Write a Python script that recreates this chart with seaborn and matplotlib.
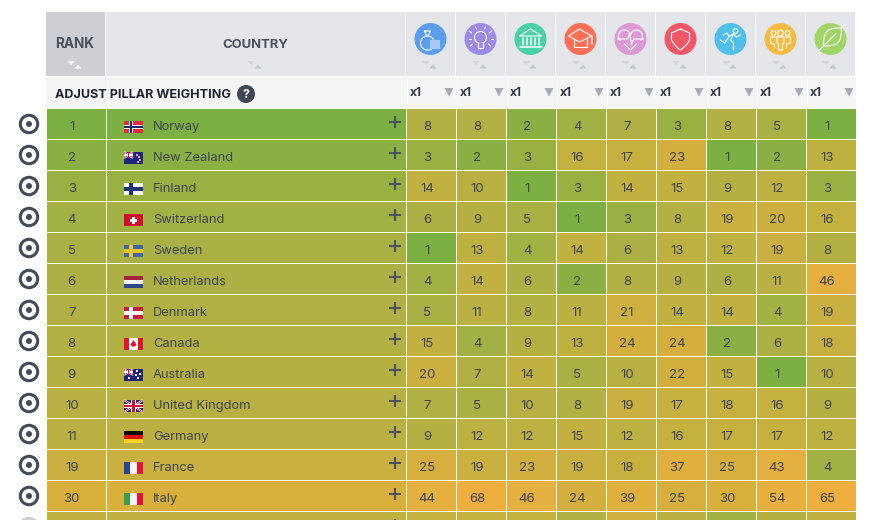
import numpy as np
import pandas as pd
import matplotlib
matplotlib.use("Agg")
import matplotlib.pyplot as plt
import seaborn as sns
from matplotlib.colors import LinearSegmentedColormap
from matplotlib.patches import Circle, Polygon, Rectangle, Arc

# values (last row is cut off, guessed from its colours)
countries = ["Norway", "New Zealand", "Finland", "Switzerland", "Sweden", "Netherlands", "Denmark",
             "Canada", "Australia", "United Kingdom", "Germany", "France", "Italy", ""]
ranks = [1, 2, 3, 4, 5, 6, 7, 8, 9, 10, 11, 19, 30, 14]
economy = [8, 3, 14, 6, 1, 4, 5, 15, 20, 7, 9, 25, 44, 16]
business = [8, 2, 10, 9, 13, 14, 11, 4, 7, 5, 12, 19, 68, 16]
governance = [2, 3, 1, 5, 4, 6, 8, 9, 14, 10, 12, 23, 46, 16]
education = [4, 16, 3, 1, 14, 2, 11, 13, 5, 8, 15, 19, 24, 8]
health = [7, 17, 14, 3, 6, 8, 21, 24, 10, 19, 12, 18, 39, 21]
safety = [3, 23, 15, 8, 13, 9, 14, 24, 22, 17, 16, 37, 25, 11]
freedom = [8, 1, 9, 19, 12, 6, 14, 2, 15, 18, 17, 25, 30, 4]
social = [5, 2, 12, 20, 19, 11, 4, 6, 1, 16, 17, 43, 54, 9]
environment = [1, 13, 3, 16, 8, 46, 19, 18, 10, 9, 12, 4, 65, 14]
weights = ["x1"] * 9

icon_colors = ["#5B9DEE", "#9D8AE8", "#4BD0A8", "#FF6F55", "#DC99D6", "#F05768", "#4FC0EA", "#F8BB42", "#A2D568"]

W, H = 869, 520
TXT = "#3F4450"

sns.set_theme(style="white")
plt.rcParams["font.family"] = ["Inter", "DejaVu Sans"]

fig = plt.figure(figsize=(W / 100, H / 100), dpi=100, facecolor="white")


def px_axes(x0, y0, x1, y1):
    return fig.add_axes([x0 / W, 1 - y1 / H, (x1 - x0) / W, (y1 - y0) / H])


# colour scale green -> amber, rank 1..68
nodes = [(1, "#7CB042"), (2, "#8EB043"), (3, "#9BB042"), (4, "#A3B144"), (5, "#A9B044"), (8, "#B4B044"),
         (13, "#BFB140"), (19, "#C9B040"), (25, "#D6AF3E"), (30, "#DAB03D"), (46, "#E5B03F"), (68, "#F0AE3E")]
cmap = LinearSegmentedColormap.from_list("prosperity", [((v - 1) / 67, c) for v, c in nodes])

table = pd.DataFrame({"economy": economy, "business": business, "governance": governance,
                      "education": education, "health": health, "safety": safety,
                      "freedom": freedom, "social": social, "environment": environment}, index=countries)
n_rows = len(table)
top = 108
bottom = top + 31 * n_rows
kw = dict(cmap=cmap, vmin=1, vmax=68, cbar=False, linewidths=0.5, linecolor="white",
          xticklabels=False, yticklabels=False)
annot_kw = {"fontsize": 9.5, "color": TXT}


def heat(ax, data, annot, dx=0.0):
    sns.heatmap(data, ax=ax, annot=annot, fmt="d", annot_kws=annot_kw, **kw)
    ax.set_xlabel("")
    ax.set_ylabel("")
    for t in list(ax.texts):
        x, y = t.get_position()
        # the last row falls off the picture, its numbers are not visible
        if y > n_rows - 1:
            t.remove()
        else:
            t.set_position((x + dx, y + 0.1))


rank_ax = px_axes(46, top, 106, bottom)
heat(rank_ax, pd.DataFrame({"rank": ranks}), True, dx=-0.07)
country_ax = px_axes(106, top, 406, bottom)
heat(country_ax, pd.DataFrame({"rank": ranks}), False)
pillar_ax = px_axes(406, top, 856, bottom)
heat(pillar_ax, table, True, dx=-0.08)

# everything else in pixel coordinates on a see-through layer
ov = fig.add_axes([0, 0, 1, 1], zorder=5)
ov.set_xlim(0, W)
ov.set_ylim(H, 0)
ov.axis("off")
ov.patch.set_alpha(0)


def rect(x, y, w, h, c, z=1):
    ov.add_patch(Rectangle((x, y), w, h, fc=c, ec="none", zorder=z))


def tri(x, y, c, up=False, w=4.5, h=4.5):
    pts = [(x - w, y), (x + w, y), (x, y + h)] if not up else [(x - w, y + h), (x + w, y + h), (x, y)]
    ov.add_patch(Polygon(pts, fc=c, ec="none", zorder=3))


def sort_arrows(x, c1="#D3D5DA", c2="#BFC7D2"):
    tri(x, 61, c1, w=3.6, h=4)
    tri(x + 7, 64.5, c2, up=True, w=3.6, h=4)


# header band
rect(46, 12, 59, 64, "#CDCFD4")
rect(106, 12, 299, 64, "#E5E6EA")
rect(46, 77, 810, 31, "#F4F4F5")
ov.plot([106.5, 106.5], [77, 108], color="white", lw=0.7, zorder=2)
ov.plot([406.5, 406.5], [77, 108], color="white", lw=0.7, zorder=2)
ov.text(75, 44.5, "RANK", ha="center", va="center", fontsize=9.8, fontweight="bold", color="#4A4F5A", zorder=4)
ov.text(255, 44.5, "COUNTRY", ha="center", va="center", fontsize=9.4, fontweight="bold", color="#4A4F5A", zorder=4)
sort_arrows(71, "white", "white")
sort_arrows(251)
ov.text(55, 94.5, "ADJUST PILLAR WEIGHTING", ha="left", va="center", fontsize=9.05, fontweight="bold",
        color="#1F2430", zorder=4)
ov.add_patch(Circle((246, 94), 9, fc="#3F4654", ec="none", zorder=3))
ov.text(246, 94.5, "?", ha="center", va="center", fontsize=9, fontweight="bold", color="white", zorder=4)

LW = 0.8


def white_line(xs, ys, lw=LW):
    ov.plot(xs, ys, color="white", lw=lw, solid_capstyle="round", zorder=4)


def glyph(i, cx, cy):
    ec = dict(fc="none", ec="white", lw=LW, zorder=4)
    if i == 0:  # money bag
        ov.add_patch(Circle((cx - 3, cy + 4), 7, **ec))
        white_line([cx - 6, cx, cx - 2, cx - 4, cx - 6], [cy - 8, cy - 8, cy - 4, cy - 3, cy - 8])
        rect(cx - 1, cy + 1, 10, 9, "#A8CBF5", 5)
    elif i == 1:  # bulb
        ov.add_patch(Circle((cx, cy - 1.5), 6, **ec))
        rect(cx - 2.5, cy + 4, 5, 5, "#9D8AE8", 4)
        white_line([cx - 2.5, cx - 2.5, cx + 2.5, cx + 2.5], [cy + 4, cy + 9, cy + 9, cy + 4])
        for dx, dy, ex, ey in [(-9, -6, -11, -8), (9, -6, 11, -8), (-10, 0, -12, 0), (10, 0, 12, 0),
                               (-8, 5, -10, 7), (8, 5, 10, 7), (-4, -10, -5, -12), (4, -10, 5, -12)]:
            white_line([cx + dx, cx + ex], [cy + dy, cy + ey])
    elif i == 2:  # bank
        ov.add_patch(Polygon([(cx - 11, cy - 3), (cx, cy - 10), (cx + 11, cy - 3)], **ec))
        for dx in (-8, -4, 0, 4, 8):
            white_line([cx + dx, cx + dx], [cy - 1, cy + 6], lw=1.1)
        white_line([cx - 11, cx + 11], [cy + 8, cy + 8], lw=1.1)
    elif i == 3:  # grad cap
        ov.add_patch(Polygon([(cx - 12, cy - 3), (cx - 1, cy - 10), (cx + 11, cy - 3), (cx - 1, cy + 3)], **ec))
        white_line([cx - 7, cx - 7, cx + 6, cx + 6], [cy, cy + 8, cy + 8, cy])
        white_line([cx + 11, cx + 11], [cy - 3, cy + 5], lw=1.1)
    elif i == 4:  # heart beat
        ov.add_patch(Arc((cx - 6, cy - 3), 12, 12, theta1=130, theta2=360, ec="white", lw=LW, zorder=4))
        ov.add_patch(Arc((cx + 6, cy - 3), 12, 12, theta1=180, theta2=50, ec="white", lw=LW, zorder=4))
        white_line([cx - 13, cx - 3, cx - 1, cx + 1, cx + 3, cx + 13], [cy, cy, cy - 5, cy + 5, cy, cy])
        white_line([cx - 6, cx, cx + 6], [cy + 5, cy + 11, cy + 5])
    elif i == 5:  # shield
        t = np.linspace(0, 1, 12)
        xs = np.r_[cx, cx + 9, cx + 9, cx + 9 * (1 - t), cx - 9 * t, cx - 9, cx]
        ys = np.r_[cy - 10, cy - 6, cy + 1, cy + 1 + 10 * t ** 0.7, cy + 11 - 10 * t ** 1.4, cy - 6, cy - 10]
        white_line(xs, ys)
    elif i == 6:  # runner
        ov.add_patch(Circle((cx + 5, cy - 8), 2.4, **ec))
        white_line([cx - 10, cx - 6, cx - 1, cx + 3, cx, cx + 3, cx + 3],
                   [cy + 1, cy + 4, cy - 3, cy - 5, cy + 1, cy + 4, cy + 11])
        white_line([cx + 3, cx + 6, cx + 10], [cy - 5, cy - 2, cy - 4])
        white_line([cx - 1, cx - 4, cx - 7], [cy - 3, cy - 6, cy - 4])
    elif i == 7:  # people
        for dx, r in ((-7, 2.4), (0, 2.8), (7, 2.4)):
            ov.add_patch(Circle((cx + dx, cy - 6), r, **ec))
        white_line([cx - 3.5, cx - 3.5, cx - 2, cx - 2, cx + 2, cx + 2, cx + 3.5, cx + 3.5, cx - 3.5],
                   [cy - 2, cy + 4, cy + 5, cy + 11, cy + 11, cy + 5, cy + 4, cy - 2, cy - 2])
        white_line([cx - 5, cx - 10, cx - 10, cx - 6, cx - 6], [cy - 2, cy - 2, cy + 4, cy + 5, cy + 9])
        white_line([cx + 5, cx + 10, cx + 10, cx + 6, cx + 6], [cy - 2, cy - 2, cy + 4, cy + 5, cy + 9])
    else:  # leaf
        t = np.linspace(0, 1, 15)
        xa = cx - 7 + 18 * t
        ya = cy + 7 - 18 * t
        bulge = 5.5 * np.sin(np.pi * t)
        white_line(xa - bulge, ya - bulge)
        white_line(xa + bulge, ya + bulge)
        white_line([cx - 12, cx + 5], [cy + 12, cy - 5])


for i, c in enumerate(icon_colors):
    x0 = 406 + 50 * i
    rect(x0, 12, 49, 64, "#E5E6EA")
    ov.add_patch(Circle((x0 + 24.5, 39), 16, fc=c, ec="none", zorder=3))
    glyph(i, x0 + 24.5, 39)
    sort_arrows(x0 + 20)
    ov.text(x0 + 3.5, 93.5, weights[i], ha="left", va="center", fontsize=8.6, fontweight="bold", color="#333845", zorder=4)
    ov.add_patch(Polygon([(x0 + 38.5, 88), (x0 + 47.5, 88), (x0 + 43, 96.5)], fc="#A7ABB5", ec="none", zorder=3))
    if i > 0:
        ov.plot([x0 + 0.5, x0 + 0.5], [77, 108], color="white", lw=0.7, zorder=2)


def flag_bands(x, y, cols, vertical=False):
    for k, c in enumerate(cols):
        if vertical:
            rect(x + k * 19 / len(cols), y, 19 / len(cols), 12, c, 3)
        else:
            rect(x, y + k * 12 / len(cols), 19, 12 / len(cols), c, 3)


def nordic(x, y, bg, cross, inner=None):
    rect(x, y, 19, 12, bg, 3)
    rect(x + 5, y, 3.6, 12, cross, 3)
    rect(x, y + 4.2, 19, 3.6, cross, 3)
    if inner:
        rect(x + 6, y, 1.6, 12, inner, 3)
        rect(x, y + 5.2, 19, 1.6, inner, 3)


def union(x, y, w, h):
    rect(x, y, w, h, "#1F2A6E", 3)
    for xs, ys in (([x, x + w], [y, y + h]), ([x, x + w], [y + h, y])):
        ov.plot(xs, ys, color="white", lw=1.4, zorder=3, solid_capstyle="butt")
        ov.plot(xs, ys, color="#D0103A", lw=0.5, zorder=3, solid_capstyle="butt")
    rect(x + w / 2 - w * 0.11, y, w * 0.22, h, "white", 3)
    rect(x, y + h / 2 - h * 0.14, w, h * 0.28, "white", 3)
    rect(x + w / 2 - w * 0.06, y, w * 0.12, h, "#D0103A", 3)
    rect(x, y + h / 2 - h * 0.08, w, h * 0.16, "#D0103A", 3)


def draw_flag(name, x, y):
    if name == "Norway":
        nordic(x, y, "#E5293F", "white", "#1B2A6B")
    elif name in ("New Zealand", "Australia"):
        rect(x, y, 19, 12, "#1B2580", 3)
        union(x, y, 9, 6)
        if name == "New Zealand":
            ov.scatter([x + 13, x + 15, x + 16, x + 14], [y + 3, y + 5, y + 8, y + 10], s=1.5, c="#E8A0B0", marker="s", lw=0, zorder=4)
        else:
            ov.scatter([x + 4.5, x + 13, x + 16, x + 14, x + 12], [y + 9, y + 2, y + 5, y + 9, y + 6], s=2.5, c="white", marker="s", lw=0, zorder=4)
    elif name == "Finland":
        nordic(x, y, "white", "#20347C")
    elif name == "Switzerland":
        rect(x, y, 19, 12, "#D60A2E", 3)
        rect(x + 8, y + 2.5, 3, 7, "white", 3)
        rect(x + 6, y + 4.5, 7, 3, "white", 3)
    elif name == "Sweden":
        nordic(x, y, "#3C67A6", "#F2C530")
    elif name == "Netherlands":
        flag_bands(x, y, ["#A3223D", "#F4F4F4", "#2C4690"])
    elif name == "Denmark":
        nordic(x, y, "#C8163E", "white")
    elif name == "Canada":
        rect(x, y, 19, 12, "white", 3)
        rect(x, y, 5, 12, "#E8112D", 3)
        rect(x + 14, y, 5, 12, "#E8112D", 3)
        ov.add_patch(Polygon([(x + 9.5, y + 2), (x + 12.5, y + 6.5), (x + 11, y + 8.5), (x + 8, y + 8.5), (x + 6.5, y + 6.5)],
                             fc="#E8112D", ec="none", zorder=4))
    elif name == "United Kingdom":
        union(x, y, 19, 12)
    elif name == "Germany":
        flag_bands(x, y, ["#0A0A0A", "#DD0F14", "#FCD116"])
    elif name == "France":
        flag_bands(x, y, ["#2A4396", "#F4F4F4", "#E3123C"], True)
    elif name == "Italy":
        flag_bands(x, y, ["#3B9A4C", "#F4F4F4", "#E3123C"], True)


for k, name in enumerate(countries):
    cy = 124 + 31 * k
    ring = "#444B58" if name else "#CCCED2"
    ov.add_patch(Circle((29, cy), 8.7, fc="none", ec=ring, lw=2.2, zorder=3))
    ov.add_patch(Circle((29, cy), 3, fc=ring, ec="none", zorder=3))
    ov.plot([389, 401], [cy - 2, cy - 2], color="#4A5160", lw=1.5, zorder=3, solid_capstyle="butt")
    ov.plot([395, 395], [cy - 8, cy + 4], color="#4A5160", lw=1.5, zorder=3, solid_capstyle="butt")
    if name:
        draw_flag(name, 124, cy - 3)
        ov.text(153, cy + 3, name, ha="left", va="center", fontsize=9.3, color=TXT, zorder=4)

fig.savefig("out.png", dpi=100, facecolor="white")
